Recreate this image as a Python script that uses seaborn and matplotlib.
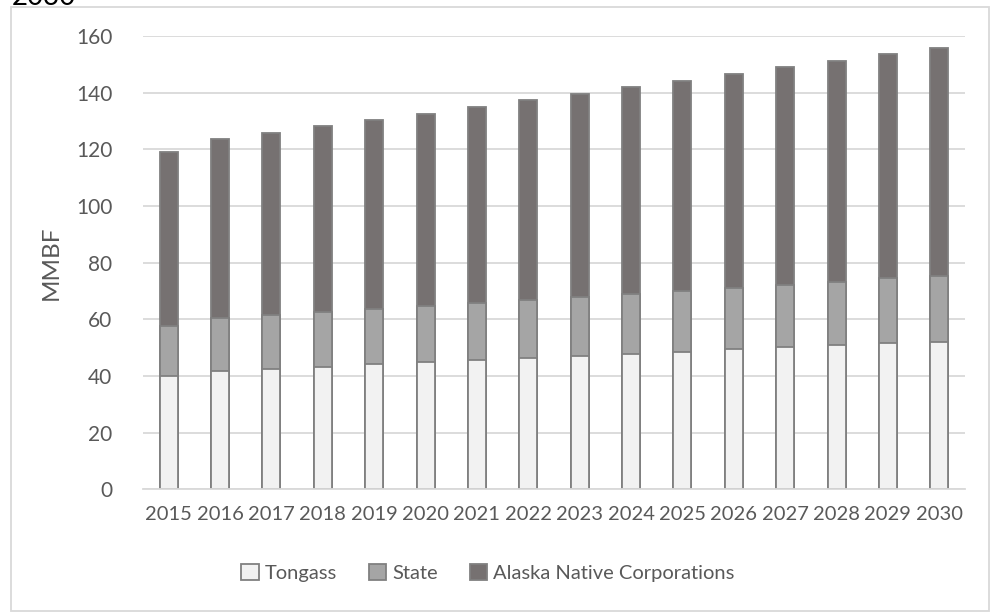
import matplotlib
matplotlib.use("Agg")
import matplotlib.pyplot as plt
from matplotlib.patches import Patch, Rectangle
import seaborn as sns
import pandas as pd

# Harvest projections by ownership (MMBF)
years = [2015, 2016, 2017, 2018, 2019, 2020, 2021, 2022,
         2023, 2024, 2025, 2026, 2027, 2028, 2029, 2030]
tongass = [40.0, 41.8, 42.6, 43.3, 44.1, 44.8, 45.5, 46.3,
           47.2, 47.9, 48.6, 49.4, 50.1, 50.9, 51.5, 52.1]
state = [17.6, 18.6, 18.8, 19.3, 19.5, 19.9, 20.4, 20.6,
         20.8, 21.0, 21.4, 21.7, 22.0, 22.4, 23.0, 23.2]
anc = [61.3, 63.1, 64.5, 65.5, 66.8, 67.9, 69.1, 70.4,
       71.6, 73.0, 74.2, 75.4, 76.8, 77.9, 79.0, 80.5]
series_names = ["Tongass", "State", "Alaska Native Corporations"]
yticks = [0, 20, 40, 60, 80, 100, 120, 140, 160]

df = pd.DataFrame({"year": [str(y) for y in years],
                   "Tongass": tongass, "State": state,
                   "Alaska Native Corporations": anc})
df["top_tongass"] = df["Tongass"]
df["top_state"] = df["top_tongass"] + df["State"]
df["top_anc"] = df["top_state"] + df["Alaska Native Corporations"]

sns.set_theme(style="white")
plt.rcParams["font.family"] = ["Lato", "DejaVu Sans"]

text_color = "#595959"
grid_color = "#D9D9D9"
edge_color = "#808080"
fills = {"Tongass": "#F2F2F2", "State": "#A5A5A5",
         "Alaska Native Corporations": "#767171"}

fig = plt.figure(figsize=(9.9, 6.16), dpi=100)
ax = fig.add_axes([0.1444, 0.2057, 0.8303, 0.7359])

order = [str(y) for y in years]
# Stacked bars drawn back to front from cumulative tops
for col, name in [("top_anc", "Alaska Native Corporations"),
                  ("top_state", "State"),
                  ("top_tongass", "Tongass")]:
    sns.barplot(data=df, x="year", y=col, order=order, color=fills[name],
                saturation=1, width=0.35, edgecolor=edge_color,
                linewidth=1.3, errorbar=None, ax=ax, zorder=3)

ax.set_ylim(0, 160)
ax.set_xlim(-0.5, 15.5)
ax.set_yticks(yticks)
ax.yaxis.grid(True, color=grid_color, linewidth=1.3, zorder=0)
ax.set_axisbelow(True)
for s in ["top", "right", "left"]:
    ax.spines[s].set_visible(False)
ax.spines["bottom"].set_color(grid_color)
ax.spines["bottom"].set_linewidth(1.3)
ax.spines["bottom"].set_zorder(4)
ax.tick_params(axis="both", length=0, labelsize=14.5, colors=text_color)
ax.tick_params(axis="y", labelsize=15, pad=22)
ax.tick_params(axis="x", pad=12)
ax.set_xlabel("")
ax.set_ylabel("MMBF", fontsize=17.5, color=text_color, labelpad=10)

handles = [Patch(facecolor=fills[n], edgecolor=edge_color, linewidth=1.3, label=n)
           for n in series_names]
fig.legend(handles=handles, loc="center", bbox_to_anchor=(0.493, 0.07),
           ncol=3, frameon=False, fontsize=14.5, handlelength=0.85,
           handleheight=0.85, handletextpad=0.3, columnspacing=1.6,
           labelcolor=text_color)

# Chart area border
fig.patches.append(Rectangle((11 / 990, 1 - 611 / 616), 978 / 990, 604 / 616,
                             transform=fig.transFigure, fill=False,
                             edgecolor=grid_color, linewidth=1.3))

# Heading above the chart area (mostly outside the canvas)
fig.text(0.012, 1 - 5 / 616, "2030", fontsize=20, color="black",
         ha="left", va="baseline")

fig.savefig("out.png", dpi=100)
